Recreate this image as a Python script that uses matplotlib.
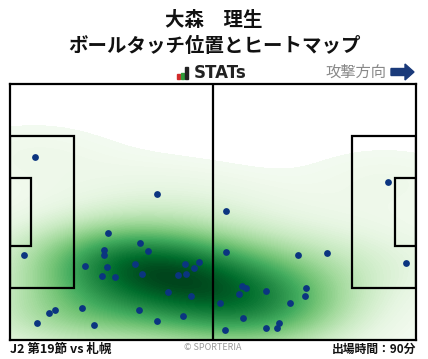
import numpy as np
import matplotlib.pyplot as plt
import matplotlib.patches as patches

plt.rcParams['font.family'] = ['Noto Sans CJK JP', 'DejaVu Sans']

# ball touch positions, pitch metres (x: own goal -> attack, y: from bottom)
touch_x = [6.5, 38.0, 55.9, 97.8, 25.3, 33.6, 24.3, 24.3, 35.7, 3.6,
           19.4, 25.1, 32.3, 45.3, 48.9, 47.6, 23.8, 27.2, 34.1, 43.4,
           45.5, 40.9, 46.8, 18.6, 11.6, 10.1, 33.4, 44.7, 38.0, 7.0,
           21.7, 55.9, 74.5, 82.0, 102.4, 60.0, 61.0, 59.2, 66.2, 76.6,
           76.3, 54.3, 72.4, 60.3, 69.6, 66.2, 69.1, 55.6]
touch_y = [48.6, 38.8, 34.3, 42.0, 28.4, 25.8, 23.9, 22.6, 23.6, 22.6,
           19.7, 19.4, 20.2, 20.2, 20.7, 19.1, 17.0, 16.7, 17.5, 17.3,
           17.5, 12.8, 11.7, 8.5, 8.0, 7.2, 8.0, 6.4, 5.0, 4.5,
           4.0, 23.4, 22.6, 23.1, 20.5, 14.3, 13.8, 12.2, 13.0, 13.8,
           11.7, 9.8, 9.8, 5.8, 4.5, 3.2, 3.2, 2.7]

player = "大森　理生"
subtitle = "ボールタッチ位置とヒートマップ"
match_label = "J2 第19節 vs 札幌"
minutes_label = "出場時間：90分"

W, H = 428, 359
fig = plt.figure(figsize=(W / 100, H / 100), dpi=100)

def fx(px):
    return px / W

def fy(py):
    return 1 - py / H

ax = fig.add_axes([fx(10), fy(340), 406 / W, 256 / H])
ax.set_xlim(0, 105)
ax.set_ylim(0, 68)

# gaussian kde (scott bandwidth, widened), linear density levels
pts = np.vstack([touch_x, touch_y])
n = pts.shape[1]
factor = n ** (-1 / 6) * 1.3
inv = np.linalg.inv(np.cov(pts) * factor ** 2)
gx, gy = np.meshgrid(np.linspace(0, 105, 320), np.linspace(0, 68, 210))
dx = gx[..., None] - pts[0]
dy = gy[..., None] - pts[1]
q = inv[0, 0] * dx * dx + 2 * inv[0, 1] * dx * dy + inv[1, 1] * dy * dy
dens = np.exp(-0.5 * q).sum(axis=-1)
dmax = dens.max()
ax.contourf(gx, gy, dens, levels=np.linspace(0.03 * dmax, dmax, 100),
            cmap='Greens', vmin=0, vmax=dmax, zorder=1)

lc = 'black'
lw = 1.6
ax.plot([52.5, 52.5], [0, 68], color=lc, lw=lw, zorder=3)
for x0, w in [(0, 16.5), (105 - 16.5, 16.5)]:
    ax.add_patch(patches.Rectangle((x0, 34 - 20.15), w, 40.3, fill=False,
                                   ec=lc, lw=lw, zorder=3))
for x0, w in [(0, 5.5), (105 - 5.5, 5.5)]:
    ax.add_patch(patches.Rectangle((x0, 34 - 9.15), w, 18.3, fill=False,
                                   ec=lc, lw=lw, zorder=3))

ax.scatter(touch_x, touch_y, s=24, color='#0b3580', zorder=4, linewidths=0)

ax.set_xticks([])
ax.set_yticks([])
for s in ax.spines.values():
    s.set_linewidth(lw)
    s.set_color(lc)
    s.set_zorder(5)

# header
fig.text(fx(214), fy(21), player, ha='center', va='center',
         fontsize=14, fontweight='bold', color='#111111')
fig.text(fx(214), fy(46), subtitle, ha='center', va='center',
         fontsize=14, fontweight='bold', color='#111111')

# STATs logo
bar_cols = ['#d22b2b', '#2f9a3a', '#222222']
bar_h = [5, 6, 12]
for i, (c, h) in enumerate(zip(bar_cols, bar_h)):
    fig.patches.append(patches.Rectangle((fx(177 + i * 4), fy(79)), 3.2 / W, h / H,
                                         transform=fig.transFigure, color=c))
fig.text(fx(194), fy(73), "STATs", ha='left', va='center',
         fontsize=12, fontweight='bold', color='#222222', family='DejaVu Sans')

fig.text(fx(386), fy(72), "攻撃方向", ha='right', va='center',
         fontsize=11, color='#888888')
fig.patches.append(patches.FancyArrow(fx(391), fy(72), 23 / W, 0,
                                      width=7 / H, head_width=16 / H,
                                      head_length=9 / W, length_includes_head=True,
                                      transform=fig.transFigure, color='#1a3a7a'))

# footer
fig.text(fx(10), fy(349), match_label, ha='left', va='center',
         fontsize=9, fontweight='bold', color='#111111')
fig.text(fx(213), fy(348), "© SPORTERIA", ha='center', va='center',
         fontsize=6.5, color='#999999')
fig.text(fx(416), fy(349), minutes_label, ha='right', va='center',
         fontsize=8.5, fontweight='bold', color='#111111')

fig.savefig('out.png', dpi=100)
